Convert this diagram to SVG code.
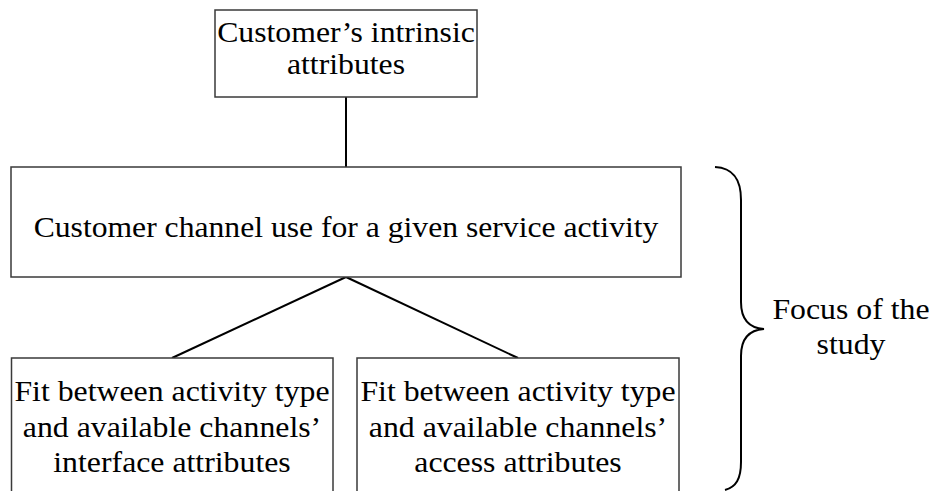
<svg xmlns="http://www.w3.org/2000/svg" width="935" height="491" viewBox="0 0 935 491">
  <style>
    .box { fill: #ffffff; stroke: #3a3a3a; stroke-width: 1.5; }
    .link { fill: none; stroke: #000000; stroke-width: 2; }
    text { font-family: 'Liberation Serif', 'Times New Roman', serif; font-size: 30px; fill: #000000; text-anchor: middle; }
    .tight { font-size: 29px; }
  </style>
  <rect width="935" height="491" fill="#ffffff"/>

  <!-- connectors -->
  <g id="connectors">
    <line class="link" x1="346" y1="97" x2="346" y2="167"/>
    <line class="link" x1="346" y1="277" x2="172" y2="358"/>
    <line class="link" x1="346" y1="277" x2="518" y2="358"/>
  </g>

  <g id="intrinsic">
    <rect class="box" x="215" y="10" width="262" height="87"/>
    <g transform="translate(346,0) scale(1.095,1)">
      <text class="tight" x="0" y="42">Customer’s intrinsic</text>
      <text class="tight" x="0" y="74">attributes</text>
    </g>
  </g>

  <g id="channel-use">
    <rect class="box" x="11" y="167" width="670" height="110"/>
    <g transform="translate(346,0) scale(1.055,1)">
      <text x="0" y="237">Customer channel use for a given service activity</text>
    </g>
  </g>

  <g id="interface-fit">
    <rect class="box" x="11.5" y="358" width="321.5" height="150"/>
    <g transform="translate(172,0) scale(1.06,1)">
      <text x="0" y="401">Fit between activity type</text>
      <text x="0" y="437">and available channels’</text>
      <text x="0" y="472">interface attributes</text>
    </g>
  </g>

  <g id="access-fit">
    <rect class="box" x="357" y="358" width="322" height="150"/>
    <g transform="translate(518,0) scale(1.06,1)">
      <text x="0" y="401">Fit between activity type</text>
      <text x="0" y="437">and available channels’</text>
      <text x="0" y="472">access attributes</text>
    </g>
  </g>

  <g id="focus">
    <path class="link" d="M715,167 C734,168 741,180 741,200 L741,302 C741,319 749,328 764,329 C749,330 741,339 741,356 L741,462 C741,479 736,487 725,490"/>
    <g transform="translate(851,0) scale(1.06,1)">
      <text x="0" y="319">Focus of the</text>
      <text x="0" y="354">study</text>
    </g>
  </g>
</svg>
